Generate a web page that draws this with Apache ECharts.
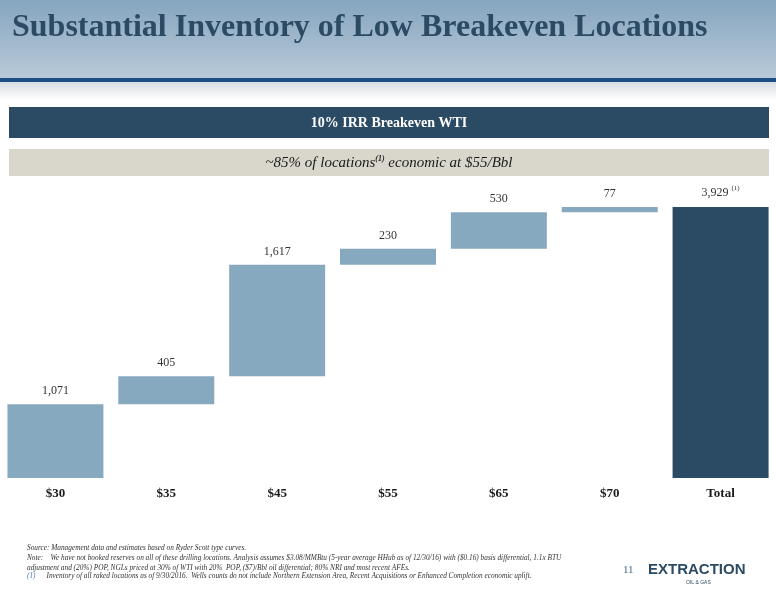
<!DOCTYPE html>
<html><head><meta charset="utf-8">
<script src="https://cdn.jsdelivr.net/npm/echarts@6/dist/echarts.min.js"></script>
<style>html,body{margin:0;padding:0;background:#fff}#c{width:776px;height:600px}</style>
</head><body><div id="c"></div>
<script>
const categories = ['$30','$35','$45','$55','$65','$70','Total'];
const increments = [1071,405,1617,230,530,77,3929];
const labels = ['1,071','405','1,617','230','530','77','3,929'];

const bases = [];
let run = 0;
increments.forEach((v,i)=>{ if(i===increments.length-1){bases.push(0);} else {bases.push(run); run+=v;} });

const chart = echarts.init(document.getElementById('c'));
const serif = '"Liberation Serif", "DejaVu Serif", serif';
chart.setOption({
  animation:false,
  grid:{left:-5,right:-8,top:207,bottom:122},
  xAxis:{type:'category',data:categories,axisLine:{show:false},axisTick:{show:false},
    axisLabel:{margin:9,fontFamily:serif,fontWeight:'bold',fontSize:13,color:'#1a1a1a'}},
  yAxis:{type:'value',min:0,max:3929,show:false,splitLine:{show:false}},
  series:[
    {type:'bar',stack:'w',data:bases,itemStyle:{color:'transparent'},barWidth:96,silent:true},
    {type:'bar',stack:'w',barWidth:96,
     data:increments.map((v,i)=>({value:v,itemStyle:{color:i===increments.length-1?'#2b4a63':'#87a9c0'}})),
     label:{show:true,position:'top',distance:7,fontFamily:serif,fontSize:12,color:'#333',
       formatter:p=>p.dataIndex===increments.length-1?labels[p.dataIndex]+' {s|(1)}':labels[p.dataIndex],
       rich:{s:{fontSize:7,verticalAlign:'top',padding:[0,0,8,0],fontFamily:serif,color:'#333'}}}}
  ],
  graphic:[
    {type:'rect',shape:{x:0,y:0,width:776,height:78},style:{fill:new echarts.graphic.LinearGradient(0,0,0,1,[{offset:0,color:'#86a5bf'},{offset:1,color:'#b8cad8'}])}},
    {type:'rect',shape:{x:0,y:78,width:776,height:4},style:{fill:'#1f4f86'}},
    {type:'rect',shape:{x:0,y:82,width:776,height:18},style:{fill:new echarts.graphic.LinearGradient(0,0,0,1,[{offset:0,color:'#d8dde2'},{offset:1,color:'#ffffff'}])}},
    {type:'text',left:12,top:12,style:{text:'Substantial Inventory of Low Breakeven Locations',font:'bold 32px '+serif,fill:'#2b4a63'}},
    {type:'rect',shape:{x:9,y:107,width:760,height:31},style:{fill:'#2b4a63'}},
    {type:'text',x:389,y:123,style:{text:'10% IRR Breakeven WTI',font:'bold 14px '+serif,fill:'#fff',align:'center',verticalAlign:'middle'}},
    {type:'rect',shape:{x:9,y:149,width:760,height:27},style:{fill:'#d9d6cc'}},
    {type:'text',x:389,y:163,style:{text:'~85% of locations{s|(1)} economic at $55/Bbl',font:'italic 15px '+serif,fill:'#1a1a1a',align:'center',verticalAlign:'middle',
      rich:{s:{font:'bold italic 8px '+serif,fill:'#1a1a1a',verticalAlign:'top',padding:[0,0,8,0]}}}},
    {type:'text',left:27,top:543,style:{text:'Source: Management data and estimates based on Ryder Scott type curves.\nNote:    We have not booked reserves on all of these drilling locations. Analysis assumes $3.08/MMBtu (5-year average HHub as of 12/30/16) with ($0.16) basis differential, 1.1x BTU\nadjustment and (20%) POP, NGLs priced at 30% of WTI with 20%  POP, ($7)/Bbl oil differential; 80% NRI and most recent AFEs.',
      font:'italic 7.3px '+serif,fill:'#333',lineHeight:10}},
    {type:'text',left:27,top:573,style:{text:'{b|(1)}      Inventory of all raked locations as of 9/30/2016.  Wells counts do not include Northern Extension Area, Recent Acquisitions or Enhanced Completion economic uplift.',
      font:'italic 7.3px '+serif,fill:'#333',rich:{b:{fill:'#4a7ab0',font:'italic 7.3px '+serif}}}},
    {type:'text',left:623,top:565,style:{text:'11',font:'11px '+serif,fill:'#4a6a8a'}},
    {type:'text',left:648,top:562,style:{text:'EXTRACTION',font:'bold 15px "Liberation Sans", Arial, sans-serif',fill:'#2b4a63'}},
    {type:'text',left:686,top:580,style:{text:'OIL & GAS',font:'5px "Liberation Sans", sans-serif',fill:'#2b4a63'}}
  ]
});
</script></body></html>
